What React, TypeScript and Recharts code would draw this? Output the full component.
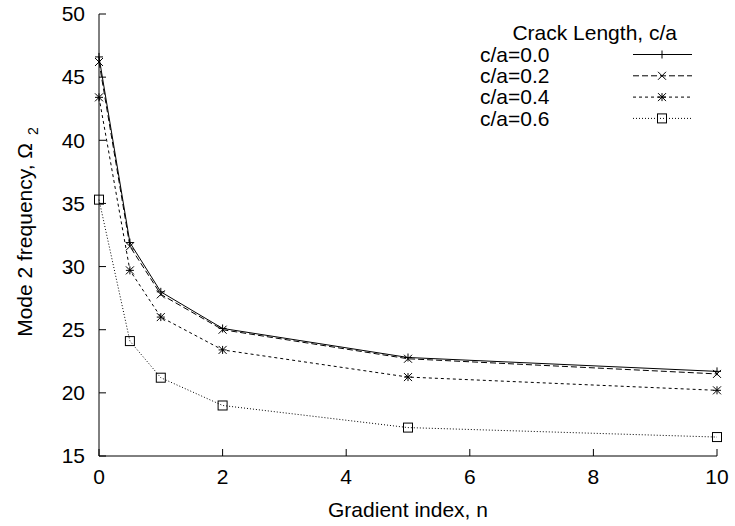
import { LineChart, Line, XAxis, YAxis, Legend } from "recharts";

// gradient index n (x) and mode 2 frequency for each crack length
const gradientIndex = [0, 0.5, 1, 2, 5, 10];
const crack00 = [46.6, 31.9, 28.0, 25.1, 22.8, 21.7];
const crack02 = [46.2, 31.6, 27.8, 25.0, 22.7, 21.5];
const crack04 = [43.4, 29.7, 26.0, 23.4, 21.25, 20.2];
const crack06 = [35.3, 24.1, 21.2, 19.0, 17.25, 16.5];

const seriesNames = ["c/a=0.0", "c/a=0.2", "c/a=0.4", "c/a=0.6"];
const xTicks = [0, 2, 4, 6, 8, 10];
const yTicks = [15, 20, 25, 30, 35, 40, 45, 50];

const FONT = "'Liberation Sans', Arial, Helvetica, sans-serif";
const FS = 21;

type Marker = "plus" | "cross" | "star" | "square";

const series: { key: string; name: string; dash?: string; marker: Marker }[] = [
  { key: "c00", name: seriesNames[0], marker: "plus" },
  { key: "c02", name: seriesNames[1], dash: "6 3", marker: "cross" },
  { key: "c04", name: seriesNames[2], dash: "3 3", marker: "star" },
  { key: "c06", name: seriesNames[3], dash: "1 2", marker: "square" },
];

const data = gradientIndex.map((n, i) => ({
  n,
  c00: crack00[i],
  c02: crack02[i],
  c04: crack04[i],
  c06: crack06[i],
}));

function MarkerShape({ cx, cy, kind }: { cx: number; cy: number; kind: Marker }) {
  const s = 4;
  const st = { stroke: "#000", strokeWidth: 1, fill: "none" };
  if (kind === "plus")
    return (
      <g>
        <line x1={cx - s} x2={cx + s} y1={cy} y2={cy} {...st} />
        <line x1={cx} x2={cx} y1={cy - s} y2={cy + s} {...st} />
      </g>
    );
  if (kind === "cross")
    return (
      <g>
        <line x1={cx - s} x2={cx + s} y1={cy - s} y2={cy + s} {...st} />
        <line x1={cx - s} x2={cx + s} y1={cy + s} y2={cy - s} {...st} />
      </g>
    );
  if (kind === "star")
    return (
      <g>
        <line x1={cx - s} x2={cx + s} y1={cy} y2={cy} {...st} />
        <line x1={cx} x2={cx} y1={cy - s} y2={cy + s} {...st} />
        <line x1={cx - s} x2={cx + s} y1={cy - s} y2={cy + s} {...st} />
        <line x1={cx - s} x2={cx + s} y1={cy + s} y2={cy - s} {...st} />
      </g>
    );
  return <rect x={cx - 4.5} y={cy - 4.5} width={9} height={9} {...st} />;
}

const textStyle = { fontFamily: FONT, fontSize: FS, fill: "#000" };

const BottomTick = (p: any) => (
  <g>
    <line x1={p.x} x2={p.x} y1={p.y} y2={p.y - 7} stroke="#000" />
    <text x={p.x} y={p.y + 21} dy="0.35em" textAnchor="middle" style={textStyle}>
      {p.payload.value}
    </text>
  </g>
);

const TopTick = (p: any) => (
  <line x1={p.x} x2={p.x} y1={p.y} y2={p.y + 7} stroke="#000" />
);

const LeftTick = (p: any) => (
  <g>
    <line x1={p.x} x2={p.x + 7} y1={p.y} y2={p.y} stroke="#000" />
    <text x={p.x - 14} y={p.y} dy="0.35em" textAnchor="end" style={textStyle}>
      {p.payload.value}
    </text>
  </g>
);

const RightTick = (p: any) => (
  <line x1={p.x} x2={p.x - 7} y1={p.y} y2={p.y} stroke="#000" />
);

const renderLegend = () => (
  <svg width={735} height={140} style={{ display: "block" }}>
    <text x={677} y={33} dy="0.35em" textAnchor="end" style={textStyle}>
      Crack Length, c/a
    </text>
    {series.map((s, i) => {
      const y = 54.5 + i * 21.3;
      return (
        <g key={s.key}>
          <text x={480} y={y} dy="0.35em" style={textStyle}>
            {s.name}
          </text>
          <line x1={633} x2={692} y1={y} y2={y} stroke="#000" strokeDasharray={s.dash} />
          <MarkerShape cx={662} cy={y} kind={s.marker} />
        </g>
      );
    })}
  </svg>
);

export default function App() {
  return (
    <div style={{ position: "absolute", left: 0, top: 0, background: "#fff" }}>
      <LineChart
        width={735}
        height={526}
        data={data}
        margin={{ top: 14, right: 18, left: 0, bottom: 0 }}
      >
        <XAxis
          dataKey="n"
          type="number"
          domain={[0, 10]}
          ticks={xTicks}
          interval={0}
          height={70}
          tickSize={0}
          tickMargin={0}
          tickLine={false}
          tick={BottomTick}
          axisLine={{ stroke: "#000" }}
          label={{
            content: (props: any) => {
              const vb = props.viewBox;
              return (
                <text x={vb.x + vb.width / 2} y={vb.y + 54} dy="0.35em" textAnchor="middle" style={textStyle}>
                  Gradient index, n
                </text>
              );
            },
          }}
        />
        <XAxis
          xAxisId="top"
          orientation="top"
          dataKey="n"
          type="number"
          domain={[0, 10]}
          ticks={xTicks}
          interval={0}
          height={0}
          tickSize={0}
          tickMargin={0}
          tickLine={false}
          tick={TopTick}
          axisLine={{ stroke: "#000" }}
        />
        <YAxis
          type="number"
          domain={[15, 50]}
          ticks={yTicks}
          interval={0}
          width={99}
          tickSize={0}
          tickMargin={0}
          tickLine={false}
          tick={LeftTick}
          axisLine={{ stroke: "#000" }}
          label={{
            content: (props: any) => {
              const vb = props.viewBox;
              const cx = 25;
              const cy = vb.y + vb.height / 2 - 3;
              return (
                <text
                  x={cx}
                  y={cy}
                  transform={`rotate(-90, ${cx}, ${cy})`}
                  textAnchor="middle"
                  dy="0.35em"
                  style={textStyle}
                >
                  Mode 2 frequency, Ω
                  <tspan dx={8} dy={6} fontSize={14}>
                    2
                  </tspan>
                </text>
              );
            },
          }}
        />
        <YAxis
          yAxisId="right"
          orientation="right"
          type="number"
          domain={[15, 50]}
          ticks={yTicks}
          interval={0}
          width={0}
          tickSize={0}
          tickMargin={0}
          tickLine={false}
          tick={RightTick}
          axisLine={{ stroke: "#000" }}
        />
        <Legend
          layout="vertical"
          align="center"
          verticalAlign="middle"
          content={renderLegend}
          wrapperStyle={{ left: 0, top: 0, width: 735, height: 140 }}
        />
        {series.map((s) => (
          <Line
            key={s.key}
            dataKey={s.key}
            name={s.name}
            type="linear"
            stroke="#000"
            strokeWidth={1}
            strokeDasharray={s.dash}
            isAnimationActive={false}
            activeDot={false}
            dot={(p: any) => <MarkerShape key={`${s.key}-${p.index}`} cx={p.cx} cy={p.cy} kind={s.marker} />}
          />
        ))}
      </LineChart>
    </div>
  );
}
